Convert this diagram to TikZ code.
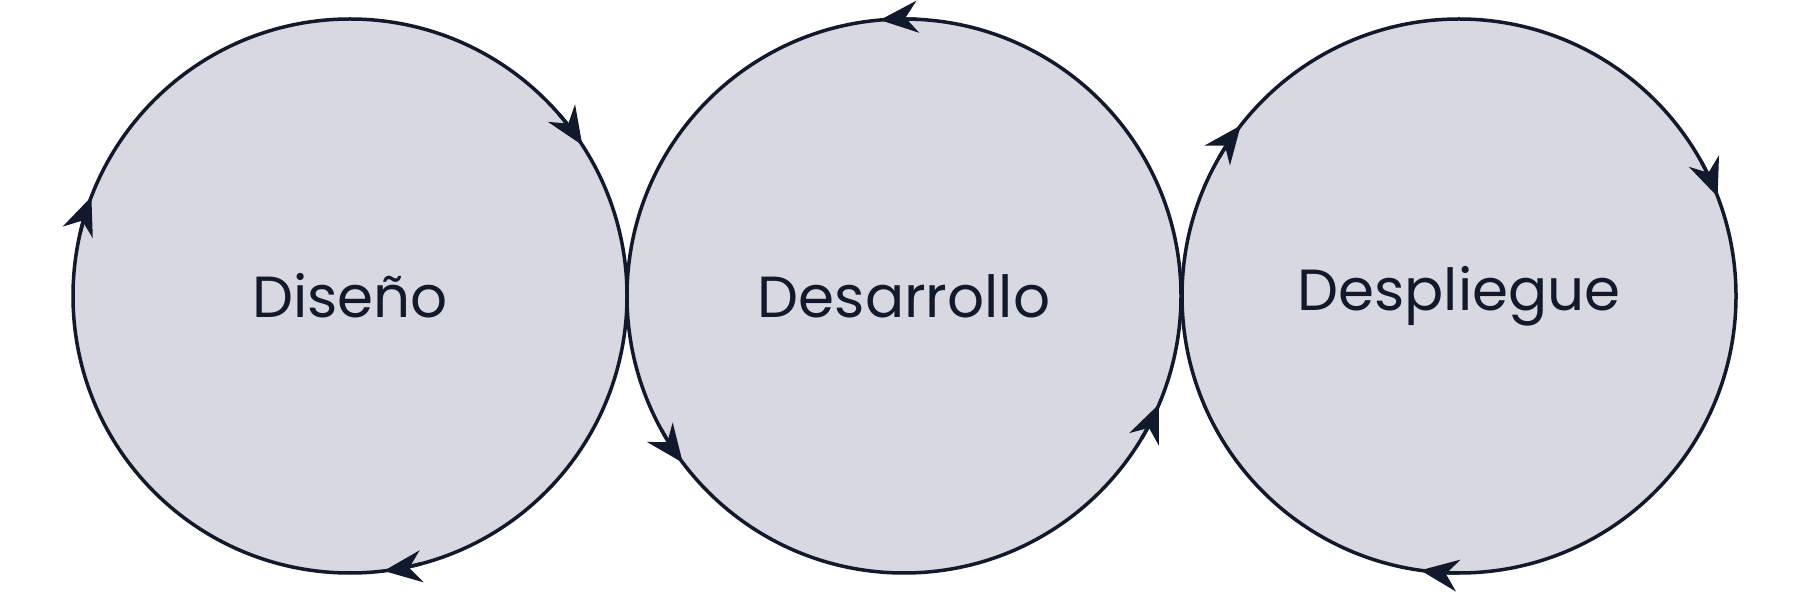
\documentclass[tikz,border=0pt]{standalone}
\usepackage{fontspec}
\setmainfont{Poppins}
\usetikzlibrary{arrows.meta,bending}
\definecolor{ink}{HTML}{111A2C}
\definecolor{disc}{HTML}{D8D8E0}
\tikzset{
 ring/.style={circle,draw=ink,fill=disc,line width=3.5pt,minimum size=554pt,inner sep=0pt,font=\fontsize{58}{66}\selectfont,text=ink},
 arr/.style={draw=ink,line width=3.5pt,-{Stealth[length=38pt,width=32pt,flex=0]}}
}
\begin{document}
\begin{tikzpicture}[x=1pt,y=1pt]
\useasboundingbox[fill=white] (0,0) rectangle (1794,592);
\node[ring] (c1) at (350,296) {Diseño};
\node[ring] (c2) at (904,296) {Desarrollo};
\node[ring] (c3) at (1459,296) {Despliegue};
\foreach \a in {33,159,-83}{
 \draw[arr] ([shift={(\a+8:277)}]c1.center) arc (\a+8:\a:277);}
\foreach \a in {142,21,262}{
 \draw[arr] ([shift={(\a+8:277)}]c3.center) arc (\a+8:\a:277);}
\foreach \a in {95,217,-23}{
 \draw[arr] ([shift={(\a-8:277)}]c2.center) arc (\a-8:\a:277);}
\end{tikzpicture}
\end{document}
